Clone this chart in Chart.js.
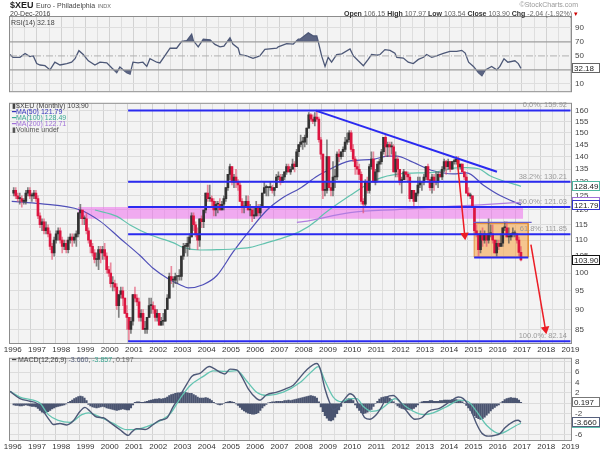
<!DOCTYPE html>
<html><head><meta charset="utf-8">
<script src="https://cdn.jsdelivr.net/npm/chart.js@4/dist/chart.umd.min.js"></script>
<style>
body{margin:0;background:#fff;width:600px;height:450px;overflow:hidden;font-family:"Liberation Sans",Arial,sans-serif;position:relative;}
canvas{position:absolute;left:0;}
.t{position:absolute;white-space:nowrap;line-height:1;color:#555;font-size:7px;}
.lg{position:absolute;left:12px;white-space:nowrap;font-size:7px;line-height:1;}
</style></head><body>
<canvas id="rsi" width="600" height="100" style="top:0px"></canvas>
<canvas id="main" width="600" height="262" style="top:95px"></canvas>
<canvas id="macd" width="600" height="100" style="top:350px"></canvas>

<div class="t" style="left:10px;top:1px;font-size:9px;color:#222;"><b>$XEU</b> <span style="font-size:7px;color:#444">Euro - Philadelphia</span> <span style="font-size:5.5px;color:#666">INDX</span></div>
<div class="t" style="left:10px;top:10px;color:#444;">20-Dec-2016</div>
<div class="t" style="right:22px;top:1px;font-size:7px;color:#999;">©StockCharts.com</div>
<div class="t" style="right:22px;top:10px;color:#666;"><b style="color:#333">Open</b> 106.15 <b style="color:#333">High</b> 107.97 <b style="color:#333">Low</b> 103.54 <b style="color:#333">Close</b> 103.90 <b style="color:#333">Chg</b> -2.04 (-1.92%) <span style="color:#c00">▾</span></div>
<div class="lg" style="top:19px;left:11px;color:#444;">RSI(14) 32.18</div>

<div class="lg" style="top:102px;color:#444;">▮$XEU (Monthly) 103.90</div>
<div class="lg" style="top:108px;color:#3333bb;">━MA(50) 121.79</div>
<div class="lg" style="top:114px;color:#3aa893;">━MA(100) 128.49</div>
<div class="lg" style="top:120px;color:#a070d8;">━MA(200) 122.71</div>
<div class="lg" style="top:126px;color:#555;">▮Volume undef</div>

<div class="lg" style="top:356px;color:#444;">━ MACD(12,26,9) <span style="color:#56607c">-3.660</span>, <span style="color:#3aa893">-3.857</span>, <span style="color:#666">0.197</span></div>

<script>
// ---------- DATA ----------
const firstOpen = 126;
const closes = [
127,125,124,124,123,123,126,127,125,125,126,124,
118,115,116,113,114,112,108,106,110,112,113,110,
108,109,107,110,111,110,111,112,119,120,117,117,
113,110,108,106,104,104,107,106,107,105,101,100,
97,97,96,91,94,95,93,89,88,85,87,94,
93,92,88,89,85,85,88,91,91,90,88,89,
86,87,87,90,93,99,98,98,99,99,99,105,
108,108,109,111,118,115,112,110,117,116,120,126,
124,124,123,120,122,122,120,122,124,128,133,136,
130,132,130,129,123,121,121,123,120,120,118,118,
121,119,121,126,128,128,128,128,127,128,132,132,
130,132,134,136,134,135,137,136,142,145,146,146,
148,152,158,156,155,157,156,147,141,127,127,140,
128,127,132,132,141,140,142,143,146,147,150,143,
139,136,135,133,123,122,130,127,136,139,130,134,
137,138,142,148,144,145,144,144,134,139,135,130,
131,134,133,132,124,127,123,126,129,130,130,132,
136,131,128,132,130,130,133,132,135,138,136,138,
135,138,138,139,136,137,134,132,126,125,125,121,
113,112,107,112,110,112,110,112,112,110,106,109,
108,109,114,114,111,111,112,112,112,110,106.15,103.9];
const highs = [
128,128,126,126,125,124,127,128,128,126,127,127,
125,119,117,117,116,115,113,109,111,113,114,114,
111,110,110,111,112,112,112,113,119,122,120,118,
119,114,110,109,107,106,108,108,108,109,106,102,
103,99,98,97,94,96,96,93,91,88,88,94,
96,94,93,90,90,87,88,93,93,92,91,90,
89,88,89,90,94,100,102,99,100,99,101,105,
109,109,111,112,119,119,116,114,117,118,120,126,
129,129,125,124,123,123,124,123,125,128,133,137,
136,133,135,131,130,124,123,125,125,122,121,121,
123,122,122,126,130,129,128,130,129,128,133,134,
133,133,134,137,137,136,139,138,143,145,149,148,
149,152,159,158.5,158,159,159.92,157,148,141,130,147,
140,130,138,135,142,143,142,144,148,150,151,151,
145,140,138,137,134,124,131,132,137,142,142,135,
138,139,143,148,149,146,146,146,145,142,140,135,
132,135,134,134,133,127,127,126,132,132,130,133,
136,137,131,133,133,134,134,134,136,139,138.5,139,
138,138,139,140,140,137,137,134,133,128,126,125,
121,115,112,113,114,113,112,117,115,115,110,110,
110,112,114,116,116,114,112,114,113,112,111,107.97];
const lows = [
125,124,123,122,121,122,122,125,124,123,124,123,
117,114,113,112,112,111,107,104,105,109,110,109,
106,107,106,106,109,108,109,108,111,117,115,115,
112,109,106,105,103,102,101,103,104,104,100,99,
96,95,95,90,88,93,91,89,85,82.14,84,86,
92,91,87,87,85,84,84,88,89,89,87,87,
86,86,86,87,90,93,97,96,97,97,98,98,
104,106,105,107,111,113,111,107,108,114,114,119,
123,123,121,118,118,119,120,120,120,123,127,131,
129,128,128,127,123,119,119,121,120,118,116,117,
118,118,118,121,126,125,125,127,126,125,128,131,
129,130,131,133,134,133,135,134,136,140,144,143,
144,145,152,155,154,153,155,146,139,124,125,126,
128,125,125,128,131,138,139,140,142,145,146,142,
138,133,133,131,122,119,121,126,126,135,130,129,
130,134,137,141,140,140,140,141,134,132,132,129,
126,131,131,130,123,124,121,123,125,128,127,129,
131,130,127,126,127,129,128,132,131,134,133,135,
134,135,137,137,136,135,134,131,126,125,124,121,
112,111,105,106,108,109,108,109,111,109,106,105,
107,108,108,113,111,109,110,111,111,109,105,103.54];

// moving averages (date as decimal year, value)
const ma50Dates = [1995.96,1997.13,1998.78,1999.60,2000.42,2001.25,2001.79,2002.36,2002.90,2003.23,2003.85,2004.42,2005.09,2005.79,2006.49,2007.15,2007.85,2008.55,2008.80,2009.91,2010.87,2011.44,2011.85,2012.38,2013.34,2014.16,2014.73,2015.40,2016.10,2016.96];
const ma50Vals  = [123.0,122.2,120.0,116.2,110.6,105.2,101.4,98.6,96.7,95.8,96.7,99.3,106.3,113.3,120.0,124.4,127.8,132.3,133.6,138.3,138.9,140.2,140.2,138.3,134.4,133.2,133.6,129.0,125.1,121.79];
const ma100Dates = [1999.39,2000.30,2000.84,2001.66,2002.61,2003.03,2003.73,2004.42,2005.09,2005.79,2006.49,2007.15,2007.85,2008.55,2008.67,2009.91,2011.01,2011.96,2013.34,2014.45,2014.73,2015.27,2015.68,2016.96];
const ma100Vals  = [120.0,117.8,114.9,111.7,109.2,107.7,106.9,107.0,107.2,107.7,109.2,110.7,112.8,116.5,117.5,125.1,131.1,133.2,133.8,135.6,135.6,135.0,132.5,128.49];
const ma200Dates = [2007.72,2007.97,2009.91,2011.96,2014.02,2015.27,2016.96];
const ma200Vals  = [115.8,116.0,119.1,120.2,121.3,121.8,122.71];

// Fibonacci retracement levels
const fibLevels = [159.92,130.21,121.03,111.85,82.14];
const fibLabels = ["0.0%: 159.92","38.2%: 130.21","50.0%: 121.03","61.8%: 111.85","100.0%: 82.14"];

// RSI(14)
const rsiDates = [1995.89,1996.01,1996.30,1996.51,1996.71,1996.85,1996.99,1997.13,1997.33,1997.54,1997.74,1997.95,1998.23,1998.43,1998.57,1998.73,1998.91,1999.12,1999.39,1999.60,1999.88,2000.08,2000.29,2000.42,2000.70,2000.84,2000.96,2001.17,2001.37,2001.53,2001.66,2001.94,2002.07,2002.35,2002.49,2002.76,2002.97,2003.18,2003.38,2003.45,2003.65,2003.86,2004.14,2004.34,2004.55,2004.71,2004.96,2005.08,2005.30,2005.37,2005.65,2005.91,2006.19,2006.40,2006.89,2006.95,2007.30,2007.57,2007.78,2007.85,2008.19,2008.40,2008.54,2008.59,2008.74,2008.88,2009.01,2009.15,2009.36,2009.57,2009.91,2010.05,2010.25,2010.46,2010.66,2010.80,2011.01,2011.15,2011.35,2011.56,2011.76,2011.84,2012.11,2012.31,2012.52,2012.73,2012.94,2013.07,2013.28,2013.48,2013.76,2014.03,2014.31,2014.52,2014.66,2014.80,2015.00,2015.21,2015.35,2015.49,2015.75,2015.96,2016.09,2016.26,2016.42,2016.71,2016.85,2016.96];
const rsiVals  = [52,48,48,53.5,49,50,39,37,36,30,41,37,39,41,46,57.5,52,43,37,41,40,33,26,34,26,24,41,40,41,35,46,41,40,54,61,61,71,72,81,72,63,74,73,66.5,63,64,76,67,61,52,50,46.5,50,59.5,61,63,67.5,67,74,74,83,78.5,78.5,72,50,35,48,41,52,53,60,50,43,36,45,52,51,52,59,58,54,48,47,41,39,45,48,52,48,50,53.5,56.5,56.5,58,54,41,35,26,21.5,30,35,30,35,46,41,43,39,32.18];

// MACD(12,26,9)
const macdDates = [1995.89,1996.30,1996.71,1996.99,1997.26,1997.54,1997.67,1997.95,1998.23,1998.50,1998.78,1998.98,1999.19,1999.46,1999.74,2000.01,2000.42,2000.77,2000.91,2001.11,2001.46,2001.80,2002.07,2002.35,2002.62,2002.90,2003.18,2003.38,2003.72,2004.11,2004.27,2004.55,2004.75,2004.96,2005.24,2005.44,2005.72,2006.06,2006.20,2006.47,2006.89,2007.23,2007.57,2007.78,2008.12,2008.54,2008.67,2008.88,2009.08,2009.22,2009.43,2009.70,2009.91,2010.11,2010.32,2010.52,2010.73,2010.94,2011.22,2011.42,2011.69,2011.97,2012.25,2012.59,2012.87,2013.14,2013.62,2014.03,2014.38,2014.58,2014.86,2015.13,2015.34,2015.61,2015.89,2016.09,2016.30,2016.64,2016.84,2016.96];
const macdVals  = [2.3,0.9,0.4,0,-1.55,-3.4,-4.1,-3.9,-4.2,-3.4,-1.55,-0.8,-1.55,-2.66,-2.8,-3.7,-5.1,-6.2,-5.55,-4.9,-5.06,-4.1,-3.27,-2.9,-0.63,1.5,3.7,5.2,5.8,7.1,6.8,6.0,5.65,6.6,6.45,5.2,2.75,0.9,0.6,1.65,2.15,2.75,3.5,4.6,6.45,7.7,6.8,2.75,0,-1.24,-0.63,0.9,1.83,1.2,-0.94,-2.8,-3.1,-2.48,-0.63,1.2,1.5,0.3,-1.55,-3.1,-2.8,-1.55,-0.94,0.3,1.2,0.9,-0.94,-4,-5.75,-6.36,-6.2,-5.86,-4.75,-3.53,-3.27,-3.66];
const signalDates = [1995.89,1996.30,1996.85,1997.13,1997.47,1997.88,1998.36,1998.85,1999.12,1999.60,2000.15,2000.70,2000.97,2001.53,2002.07,2002.49,2002.90,2003.31,2003.86,2004.27,2004.82,2005.24,2005.65,2006.06,2006.47,2007.16,2007.85,2008.40,2008.60,2008.88,2009.22,2009.57,2009.91,2010.19,2010.46,2010.80,2011.15,2011.49,2011.76,2012.11,2012.52,2012.93,2013.34,2013.90,2014.45,2014.79,2015.13,2015.55,2016.09,2016.42,2016.76,2016.96];
const signalVals  = [2.3,1.2,0.6,0,-2.2,-3.3,-3.7,-2.2,-1.85,-2.66,-3.9,-5.1,-5.1,-4.5,-3.4,-2.05,0.9,3.4,5.2,6.27,6.15,6.3,4.3,2.15,1.5,2.15,4.0,6.45,7.1,4.3,1.2,0.3,0.9,0.9,-0.63,-1.55,-1.24,0,0.9,-0.3,-1.55,-2.2,-1.85,-0.63,0.6,0.3,-1.55,-4.3,-5.86,-5.25,-4.3,-3.857];
const histVals = [
-0.3,-0.4,-0.4,-0.5,-0.5,-0.4,-0.3,-0.4,-0.5,-0.6,-0.6,-0.7,
-1.0,-1.4,-1.7,-1.85,-1.8,-1.6,-1.4,-1.1,-0.9,-0.7,-0.6,-0.5,
-0.4,-0.3,-0.1,0.2,0.4,0.6,0.9,1.1,1.3,1.4,1.3,1.0,
0.5,-0.2,-0.5,-0.7,-0.8,-0.9,-0.8,-0.7,-0.6,-0.7,-0.9,-1.0,
-1.1,-1.2,-1.3,-1.4,-1.3,-1.2,-1.1,-1.2,-1.3,-1.3,-0.9,-0.3,
0.2,0.3,0.3,0.2,0.2,0.3,0.4,0.5,0.6,0.7,0.8,0.8,
0.9,0.8,0.9,1.0,1.2,1.5,1.7,1.8,1.9,2.0,2.0,2.1,
2.2,2.1,2.0,1.9,1.9,1.7,1.5,1.2,1.0,1.0,1.0,1.1,
1.0,0.8,0.5,0.2,0.0,-0.2,-0.3,-0.2,0.0,0.2,0.3,0.4,
0.3,0.2,-0.1,-0.4,-0.8,-1.2,-1.5,-1.7,-1.9,-2.0,-2.1,-2.1,
-2.0,-1.8,-1.4,-0.9,-0.5,-0.2,0.1,0.2,0.3,0.3,0.4,0.4,
0.4,0.4,0.5,0.5,0.6,0.5,0.6,0.7,0.8,0.9,1.0,1.1,
1.2,1.3,1.4,1.5,1.4,1.3,1.0,0.3,-0.7,-1.6,-2.4,-2.9,
-3.3,-3.4,-3.2,-2.7,-2.0,-1.3,-0.6,0.1,0.5,0.8,0.9,0.9,
0.5,-0.3,-0.9,-1.4,-1.8,-2.0,-1.9,-1.7,-1.5,-1.2,-0.6,0.0,
0.4,0.8,1.1,1.2,1.3,1.2,1.0,0.7,0.3,-0.1,-0.5,-0.8,
-1.0,-1.1,-1.2,-1.2,-1.3,-1.2,-1.0,-0.7,-0.3,0.1,0.3,0.4,
0.4,0.4,0.5,0.5,0.4,0.4,0.4,0.5,0.5,0.6,0.6,0.6,
0.6,0.7,0.7,0.7,0.6,0.5,0.3,0.0,-0.4,-0.9,-1.4,-1.9,
-2.4,-2.8,-3.0,-3.1,-3.0,-2.7,-2.3,-1.9,-1.5,-1.1,-0.8,-0.5,
-0.3,0.1,0.4,0.7,0.9,1.0,1.1,1.0,1.0,0.9,0.6,0.197];

// annotations (decimal year, price)
const pinkBand = {from:1998.69, to:2017.05, low:117.0, high:121.03};
const rangeBox = {from:2015.03, to:2017.26, low:104.7, high:115.4};
const rangeTop = {from:2015.0, to:2017.4, y:115.8};
const rangeBottom = {from:2015.03, to:2017.26, y:104.6};
const fibFrom = 2000.76, fibTo = 2019.0;
const trendLine = [[2008.5,159.9],[2015.97,134.0]];
const arrow1 = [[2014.33,138.7],[2014.64,111.5]];
const arrow2 = [[2017.37,108.6],[2017.97,85.0]];

const priceTicks = [85,90,95,100,105,110,115,120,125,130,135,140,145,150,155,160];
const rsiTicks = [10,30,50,70,90];
const macdTicks = [-6,-4,-2,0,2,4,6,8];

// ---------- SETUP ----------
const X_MIN = 1995.889, X_MAX = 2019.023;
Chart.defaults.font.family = '"Liberation Sans", Arial, sans-serif';
Chart.defaults.font.size = 8;
Chart.defaults.color = '#444';

const monthT = closes.map((_, i) => 1996 + (i + 0.5) / 12);
const opens = closes.map((c, i) => i === 0 ? firstOpen : closes[i - 1]);
const UP = '#333333', DOWN = '#dc1540';
const candleCol = closes.map((c, i) => c >= opens[i] ? UP : DOWN);
const wickCol = closes.map((c, i) => c >= opens[i] ? 'rgba(80,80,80,0.7)' : 'rgba(228,80,110,0.65)');

const pts = (d, v) => d.map((x, i) => ({x, y: v[i]}));
const hline = (a, b, y) => [{x: a, y}, {x: b, y}];

function xAxis(showLabels, h){
  return {
    type:'linear', min:X_MIN, max:X_MAX, offset:false,
    afterBuildTicks: s => { const t=[]; for(let y=1996;y<=2019.001;y+=0.5) t.push({value:y}); s.ticks=t; },
    afterFit: s => { s.height = h; },
    ticks:{display:showLabels, autoSkip:false, maxRotation:0, padding:2, color:'#333', font:{size:8},
      callback: v => Number.isInteger(v) ? String(v) : ''},
    grid:{color: c => (c.tick && Number.isInteger(c.tick.value)) ? '#d2d2d2' : '#dedede', drawTicks:false, lineWidth:1},
    border:{display:false}
  };
}
function yAxis(extra){
  return Object.assign({
    position:'right',
    afterFit: s => { s.width = 29; },
    ticks:{padding:4, color:'#444', font:{size:8}, autoSkip:false},
    grid:{color:'#dcdcdc', drawTicks:false},
    border:{display:false}
  }, extra);
}

const panelPlugin = {
  id:'panel',
  beforeDraw(chart){
    const {ctx, chartArea:a} = chart;
    ctx.save();
    ctx.fillStyle = '#f3f3f3';
    ctx.fillRect(a.left, a.top, a.width, a.height);
    ctx.restore();
  },
  afterDraw(chart, args, opts){
    const {ctx, chartArea:a} = chart;
    const ys = chart.scales.y;
    ctx.save();
    (opts.fib || []).forEach(f => {
      const y = ys.getPixelForValue(f.v);
      ctx.font = '7.5px "Liberation Sans", Arial, sans-serif';
      ctx.fillStyle = '#9a9a9a';
      ctx.textAlign = 'right'; ctx.textBaseline = 'bottom';
      ctx.fillText(f.text, a.right - 4, y - 1.5);
    });
    ctx.strokeStyle = '#8c8c8c'; ctx.lineWidth = 1;
    ctx.strokeRect(a.left - 0.5, a.top - 0.5, a.width + 1, a.height + 1);
    (opts.boxes || []).forEach(b => {
      const y = Math.round(ys.getPixelForValue(b.v));
      const x = a.right + 1;
      ctx.fillStyle = '#fff';
      ctx.fillRect(x, y - 5, 28, 10);
      ctx.strokeStyle = b.color; ctx.lineWidth = 1;
      ctx.strokeRect(x + 0.5, y - 4.5, 27, 9);
      ctx.fillStyle = '#222';
      ctx.font = '8px "Liberation Sans", Arial, sans-serif';
      ctx.textAlign = 'left'; ctx.textBaseline = 'middle';
      ctx.fillText(b.text, x + 2, y + 0.5);
    });
    ctx.restore();
  }
};

const common = {
  responsive:false, animation:false, devicePixelRatio:1,
  plugins:{legend:{display:false}, tooltip:{enabled:false}},
  events:[]
};

// ---------- RSI ----------
new Chart(document.getElementById('rsi'), {
  type:'line',
  data:{datasets:[
    {data:hline(X_MIN,X_MAX,70), borderColor:'#9e9e9e', borderWidth:1.2, pointRadius:0},
    {data:hline(X_MIN,X_MAX,30), borderColor:'#9e9e9e', borderWidth:1.2, pointRadius:0},
    {data:hline(X_MIN,X_MAX,50), borderColor:'#b0b0b0', borderWidth:1, borderDash:[7,2,1,2], pointRadius:0},
    {data:pts(rsiDates,rsiVals), borderWidth:0, pointRadius:0,
      fill:{target:{value:30}, above:'rgba(0,0,0,0)', below:'#5b6482'}},
    {data:pts(rsiDates,rsiVals), borderColor:'#4d5877', borderWidth:1.3, pointRadius:0,
      fill:{target:{value:70}, above:'#5b6482', below:'rgba(0,0,0,0)'}}
  ]},
  options:Object.assign({}, common, {
    layout:{padding:{left:10, top:17, right:0, bottom:0}, autoPadding:false},
    scales:{
      x: xAxis(false, 2),
      y: yAxis({min:-0.5, max:105.7,
        afterBuildTicks: s => { s.ticks = rsiTicks.map(v => ({value:v})); },
        ticks:{padding:4, color:'#444', font:{size:8}, callback: v => v === 30 ? '' : String(v)},
        grid:{color: c => (c.tick && (c.tick.value===10||c.tick.value===90)) ? '#dedede' : 'rgba(0,0,0,0)', drawTicks:false}
      })
    },
    plugins:Object.assign({}, common.plugins, {panel:{boxes:[{v:32.18, text:'32.18', color:'#666'}]}})
  }),
  plugins:[panelPlugin]
});

// ---------- MAIN ----------
const mainDatasets = [
  {type:'line', data:hline(pinkBand.from,pinkBand.to,pinkBand.low), borderWidth:0, pointRadius:0,
    fill:{target:{value:pinkBand.high}}, backgroundColor:'rgba(236,110,236,0.55)', order:20},
  {type:'line', data:hline(rangeBox.from,rangeBox.to,rangeBox.low), borderWidth:0, pointRadius:0,
    fill:{target:{value:rangeBox.high}}, backgroundColor:'rgba(246,168,80,0.62)', order:19},
  {type:'line', data:[{x:rangeBox.from,y:rangeBox.low},{x:rangeBox.from,y:rangeBox.high},{x:rangeBox.to,y:rangeBox.high},{x:rangeBox.to,y:rangeBox.low},{x:rangeBox.from,y:rangeBox.low}],
    borderColor:'rgba(225,140,50,0.9)', borderWidth:1, pointRadius:0, fill:false, order:18},
  {type:'line', data:pts(ma200Dates,ma200Vals), borderColor:'#b07de0', borderWidth:1.2, pointRadius:0, cubicInterpolationMode:'monotone', order:10},
  {type:'line', data:pts(ma100Dates,ma100Vals), borderColor:'#62c2ae', borderWidth:1.2, pointRadius:0, cubicInterpolationMode:'monotone', order:10},
  {type:'line', data:pts(ma50Dates,ma50Vals), borderColor:'#5050b8', borderWidth:1.2, pointRadius:0, cubicInterpolationMode:'monotone', order:10},
  {type:'bar', data:monthT.map((t,i)=>({x:t, y:[lows[i], highs[i]]})), backgroundColor:wickCol, barThickness:1, grouped:false, order:6},
  {type:'bar', data:monthT.map((t,i)=>({x:t, y:[opens[i], closes[i]]})), backgroundColor:candleCol, barThickness:2, minBarLength:1, grouped:false, order:5}
];
fibLevels.forEach(v => mainDatasets.push({type:'line', data:hline(fibFrom,fibTo,v), borderColor:'#2a2af0', borderWidth:2, pointRadius:0, order:3}));
mainDatasets.push(
  {type:'line', data:hline(rangeTop.from,rangeTop.to,rangeTop.y), borderColor:'#6a62c8', borderWidth:1.3, pointRadius:0, order:3},
  {type:'line', data:hline(rangeBottom.from,rangeBottom.to,rangeBottom.y), borderColor:'#2a2af0', borderWidth:2, pointRadius:0, order:3},
  {type:'line', data:trendLine.map(p=>({x:p[0],y:p[1]})), borderColor:'#2a2af0', borderWidth:2, pointRadius:0, order:2},
  {type:'line', data:arrow1.map(p=>({x:p[0],y:p[1]})), borderColor:'#ec1c24', borderWidth:1.5, pointRadius:0, order:1},
  {type:'line', data:arrow2.map(p=>({x:p[0],y:p[1]})), borderColor:'#ec1c24', borderWidth:1.5, pointRadius:0, order:1},
  {type:'line', data:[{x:arrow1[1][0],y:arrow1[1][1]}], showLine:false, pointStyle:'triangle', pointRadius:5, rotation:174, pointBackgroundColor:'#ec1c24', pointBorderWidth:0, order:0},
  {type:'line', data:[{x:arrow2[1][0],y:arrow2[1][1]}], showLine:false, pointStyle:'triangle', pointRadius:5, rotation:170, pointBackgroundColor:'#ec1c24', pointBorderWidth:0, order:0}
);

new Chart(document.getElementById('main'), {
  type:'bar',
  data:{datasets:mainDatasets},
  options:Object.assign({}, common, {
    layout:{padding:{left:10, top:5, right:0, bottom:0}, autoPadding:false},
    scales:{
      x: xAxis(true, 14),
      y: yAxis({type:'logarithmic', min:81.7, max:163.1,
        afterBuildTicks: s => { s.ticks = priceTicks.map(v => ({value:v})); },
        ticks:{padding:4, color:'#444', font:{size:8}, autoSkip:false, callback: v => String(v)}
      })
    },
    plugins:Object.assign({}, common.plugins, {panel:{
      fib: fibLevels.map((v,i)=>({v, text:fibLabels[i]})),
      boxes:[
        {v:128.49, text:'128.49', color:'#4fb8a2'},
        {v:122.71, text:'122.71', color:'#a070d8'},
        {v:121.79, text:'121.79', color:'#3333cc'},
        {v:103.90, text:'103.90', color:'#111'}
      ]}})
  }),
  plugins:[panelPlugin]
});

// ---------- MACD ----------
new Chart(document.getElementById('macd'), {
  type:'bar',
  data:{datasets:[
    {type:'bar', data:monthT.map((t,i)=>({x:t, y:histVals[i]})), backgroundColor:'#4a5470', barThickness:1.6, grouped:false, order:5},
    {type:'line', data:pts(signalDates,signalVals), borderColor:'#64c4b2', borderWidth:1.3, pointRadius:0, cubicInterpolationMode:'monotone', order:2},
    {type:'line', data:pts(macdDates,macdVals), borderColor:'#4d5877', borderWidth:1.4, pointRadius:0, cubicInterpolationMode:'monotone', order:1}
  ]},
  options:Object.assign({}, common, {
    layout:{padding:{left:10, top:5, right:0, bottom:0}, autoPadding:false},
    scales:{
      x: xAxis(true, 10),
      y: yAxis({min:-7.1, max:8.6,
        afterBuildTicks: s => { s.ticks = macdTicks.map(v => ({value:v})); },
        ticks:{padding:4, color:'#444', font:{size:8}, autoSkip:false, callback: v => (v===0||v===-4) ? '' : String(v)}
      })
    },
    plugins:Object.assign({}, common.plugins, {panel:{boxes:[
      {v:0.197, text:'0.197', color:'#777'},
      {v:-3.857, text:'-3.857', color:'#5fbfae'},
      {v:-3.66, text:'-3.660', color:'#56607c'}
    ]}})
  }),
  plugins:[panelPlugin]
});
</script>
</body></html>
